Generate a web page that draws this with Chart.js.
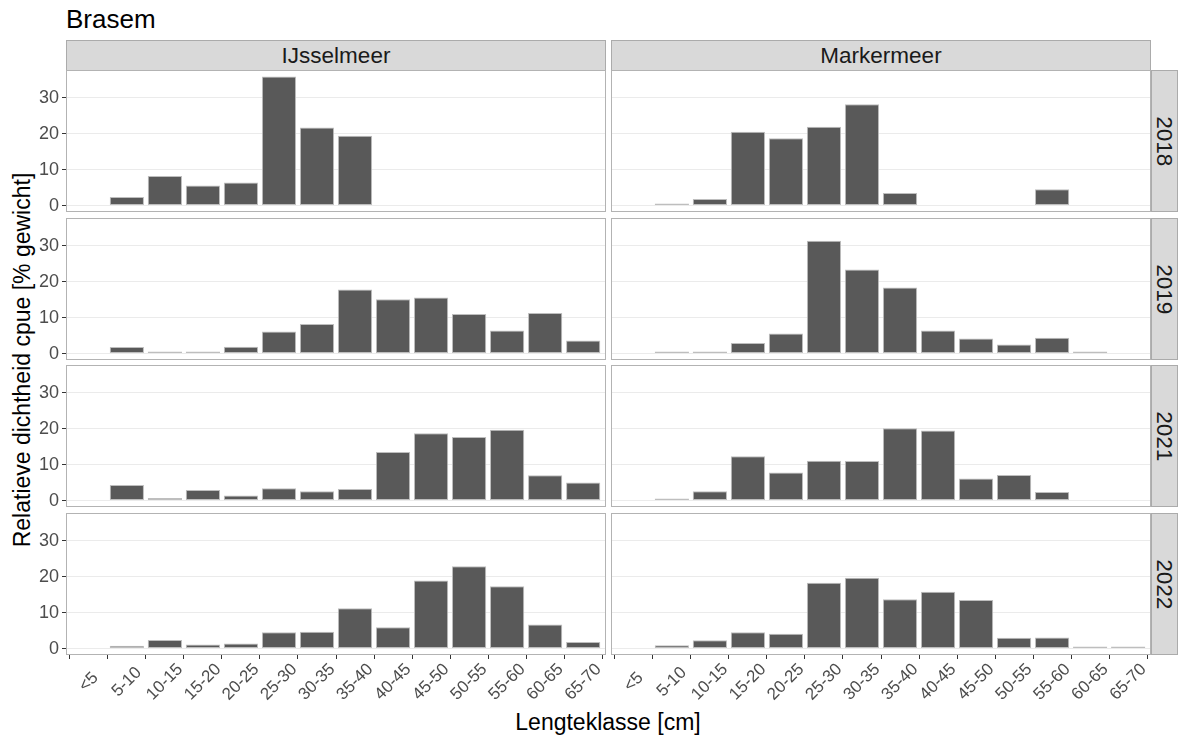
<!DOCTYPE html>
<html>
<head>
<meta charset="utf-8">
<script src="https://cdn.jsdelivr.net/npm/chart.js@4/dist/chart.umd.min.js"></script>
<style>
  body { margin: 0; width: 1178px; height: 738px; background: #fff; position: relative; overflow: hidden;
         font-family: "Liberation Sans", Arial, sans-serif; }
  canvas { position: absolute; }
  .txt { position: absolute; white-space: nowrap; line-height: 1; }
  .strip { position: absolute; background: #d9d9d9; border: 1px solid #ababab; box-sizing: border-box;
           color: #1a1a1a; font-size: 22.5px; display: flex; align-items: center; justify-content: center; }
  .vtext { transform: rotate(90deg); white-space: nowrap; line-height: 1; }
</style>
</head>
<body>
<div class="txt" style="left:66px; top:6px; font-size:26px; line-height:26px; color:#000;">Brasem</div>
<div class="txt" style="left:22px; top:360px; font-size:23px; color:#000; transform:translate(-50%,-50%) rotate(-90deg);">Relatieve dichtheid cpue [% gewicht]</div>
<div class="txt" style="left:608px; top:722px; font-size:23px; color:#000; transform:translate(-50%,-50%);">Lengteklasse [cm]</div>

<script>
// length classes on the x axis
const lengthClasses = ['<5', '5-10', '10-15', '15-20', '20-25', '25-30', '30-35',
                       '35-40', '40-45', '45-50', '50-55', '55-60', '60-65', '65-70'];
const lakes = ['IJsselmeer', 'Markermeer'];
const years = ['2018', '2019', '2021', '2022'];
const yTicks = [0, 10, 20, 30];

// relative cpue by weight (%) per length class
const ijsselmeer2018 = [null, 2.4, 8.2, 5.6, 6.4, 35.9, 21.7, 19.4, null, null, null, null, null, null];
const ijsselmeer2019 = [null, 1.8, 0.4, 0.5, 1.9, 6.1, 8.2, 17.8, 15.1, 15.6, 11.0, 6.4, 11.3, 3.6];
const ijsselmeer2021 = [null, 4.3, 0.7, 2.9, 1.4, 3.4, 2.6, 3.2, 13.5, 18.7, 17.7, 19.7, 7.0, 5.0];
const ijsselmeer2022 = [null, 0.8, 2.4, 1.1, 1.4, 4.5, 4.7, 11.2, 5.9, 18.9, 22.9, 17.3, 6.7, 1.8];

const markermeer2018 = [null, 0.3, 1.8, 20.5, 18.7, 21.9, 28.2, 3.5, null, null, null, 4.5, null, null];
const markermeer2019 = [null, 0.4, 0.3, 2.9, 5.6, 31.4, 23.4, 18.4, 6.4, 4.2, 2.5, 4.4, 0.5, null];
const markermeer2021 = [null, 0.3, 2.6, 12.3, 7.8, 11.1, 11.0, 20.1, 19.5, 6.1, 7.1, 2.4, null, null];
const markermeer2022 = [null, 0.9, 2.3, 4.5, 4.1, 18.3, 19.7, 13.7, 15.8, 13.5, 3.0, 3.1, 0.3, 0.4];

const panelData = [
  [ijsselmeer2018, markermeer2018],
  [ijsselmeer2019, markermeer2019],
  [ijsselmeer2021, markermeer2021],
  [ijsselmeer2022, markermeer2022]
];

// facet layout (pixels)
const colLeft = [66, 611];
const panelW = 540;
const rowTop = [70, 218, 365, 513];
const panelH = 142;
const yAxisW = 66;
const xAxisH = 80;
const stripH = 31;
const fontFamily = '"Liberation Sans", Arial, sans-serif';
const xLabelSize = 17;
const lastRow = years.length - 1;

// shared y range with 5% expansion as in the facet grid
const allValues = panelData.flat(2).filter(v => v !== null);
const dataMax = Math.max(...allValues);
const yMin = -0.05 * dataMax;
const yMax = dataMax * 1.05;

const panelBorder = {
  id: 'panelBorder',
  afterDraw(chart) {
    const { ctx, chartArea: a } = chart;
    ctx.save();
    ctx.strokeStyle = '#b3b3b3';
    ctx.lineWidth = 1;
    ctx.strokeRect(a.left + 0.5, a.top + 0.5, a.width - 1, a.height - 1);
    ctx.restore();
  }
};

// rotated length-class labels, centred under each tick
const xTickLabels = {
  id: 'xTickLabels',
  afterDraw(chart) {
    const s = chart.scales.x;
    if (!s.options.display) return;
    const ctx = chart.ctx;
    ctx.font = `${xLabelSize}px ${fontFamily}`;
    ctx.fillStyle = '#4d4d4d';
    ctx.textAlign = 'center';
    ctx.textBaseline = 'middle';
    s.ticks.forEach((t, i) => {
      const label = lengthClasses[Math.round(t.value) - 1];
      const x = s.getPixelForTick(i);
      ctx.save();
      ctx.translate(x, s.top + 27);
      ctx.rotate(-Math.PI / 4);
      ctx.fillText(label, 0, 0);
      ctx.restore();
    });
  }
};

function addStrip(left, top, w, h, label, vertical) {
  const d = document.createElement('div');
  d.className = 'strip';
  Object.assign(d.style, { left: left + 'px', top: top + 'px', width: w + 'px', height: h + 'px' });
  const s = document.createElement('span');
  s.textContent = label;
  if (vertical) s.className = 'vtext';
  d.appendChild(s);
  document.body.appendChild(d);
}

function makePanel(r, c, values) {
  const cv = document.createElement('canvas');
  const left = colLeft[c] - (c === 0 ? yAxisW : 0);
  const w = panelW + (c === 0 ? yAxisW : 0);
  const h = panelH + (r === lastRow ? xAxisH : 0);
  cv.width = w; cv.height = h;
  Object.assign(cv.style, { left: left + 'px', top: rowTop[r] + 'px', width: w + 'px', height: h + 'px' });
  document.body.appendChild(cv);

  const points = [];
  values.forEach((v, i) => { if (v !== null) points.push({ x: i + 1, y: v }); });

  new Chart(cv, {
    type: 'bar',
    data: {
      datasets: [{
        data: points,
        backgroundColor: '#595959',
        borderColor: '#bebebe',
        borderWidth: 1,
        borderSkipped: false,
        minBarLength: 2,
        categoryPercentage: 0.9,
        barPercentage: 1.0
      }]
    },
    options: {
      responsive: false,
      animation: false,
      devicePixelRatio: 1,
      layout: { padding: 0, autoPadding: false },
      plugins: { legend: { display: false }, tooltip: { enabled: false } },
      scales: {
        x: {
          type: 'linear',
          offset: false,
          min: 0.4,
          max: lengthClasses.length + 0.6,
          display: r === lastRow,
          afterBuildTicks: s => { s.ticks = lengthClasses.map((_, i) => ({ value: i + 1 })); },
          afterFit: s => {
            s.height = r === lastRow ? xAxisH : 0;
            s.paddingLeft = s.paddingRight = s.paddingTop = s.paddingBottom = 0;
          },
          border: { display: false },
          grid: { drawOnChartArea: false, drawTicks: true, tickLength: 4, tickColor: '#333333', tickWidth: 1 },
          ticks: { display: false }
        },
        y: {
          type: 'linear',
          min: yMin,
          max: yMax,
          afterBuildTicks: s => { s.ticks = yTicks.map(v => ({ value: v })); },
          afterFit: s => {
            s.width = c === 0 ? yAxisW : 0;
            s.paddingLeft = s.paddingRight = s.paddingTop = s.paddingBottom = 0;
          },
          border: { display: false },
          grid: { color: '#ebebeb', lineWidth: 1, drawTicks: c === 0, tickLength: 4, tickColor: '#333333' },
          ticks: { display: c === 0, padding: 3, color: '#4d4d4d', font: { family: fontFamily, size: 18 } }
        }
      }
    },
    plugins: [panelBorder, xTickLabels]
  });
}

lakes.forEach((lake, c) => addStrip(colLeft[c], rowTop[0] - stripH + 1, panelW, stripH, lake, false));
years.forEach((yr, r) => addStrip(colLeft[1] + panelW, rowTop[r], 1178 - colLeft[1] - panelW, panelH, yr, true));
years.forEach((yr, r) => lakes.forEach((lake, c) => makePanel(r, c, panelData[r][c])));
</script>
</body>
</html>
